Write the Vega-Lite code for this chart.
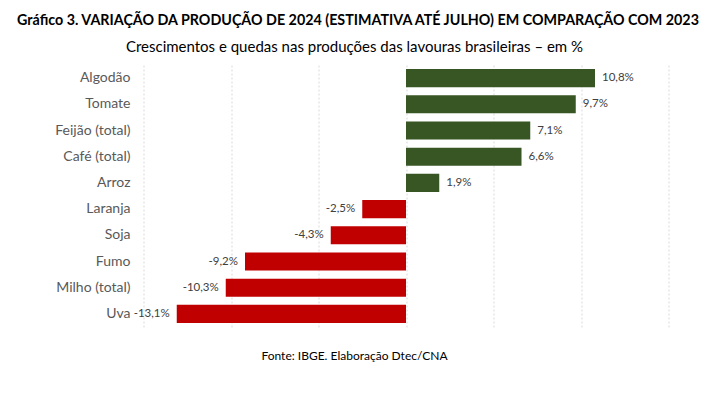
{
  "$schema": "https://vega.github.io/schema/vega-lite/v6.json",
  "width": 525,
  "height": 262,
  "autosize": "none",
  "padding": {"left": 143.5, "top": 65, "right": 40.5, "bottom": 66},
  "background": "white",
  "title": {
    "text": "Gráfico 3. VARIAÇÃO DA PRODUÇÃO DE 2024 (ESTIMATIVA ATÉ JULHO) EM COMPARAÇÃO COM 2023",
    "anchor": "start",
    "frame": "group",
    "dx": -126.5,
    "dy": 3,
    "font": "Lato",
    "fontSize": 14.3,
    "fontWeight": "bold",
    "color": "#000000",
    "offset": 14
  },
  "data": {
    "values": [
      {"cultura": "Algodão", "valor": 10.8, "rotulo": "10,8%"},
      {"cultura": "Tomate", "valor": 9.7, "rotulo": "9,7%"},
      {"cultura": "Feijão (total)", "valor": 7.1, "rotulo": "7,1%"},
      {"cultura": "Café (total)", "valor": 6.6, "rotulo": "6,6%"},
      {"cultura": "Arroz", "valor": 1.9, "rotulo": "1,9%"},
      {"cultura": "Laranja", "valor": -2.5, "rotulo": "-2,5%"},
      {"cultura": "Soja", "valor": -4.3, "rotulo": "-4,3%"},
      {"cultura": "Fumo", "valor": -9.2, "rotulo": "-9,2%"},
      {"cultura": "Milho (total)", "valor": -10.3, "rotulo": "-10,3%"},
      {"cultura": "Uva", "valor": -13.1, "rotulo": "-13,1%"}
    ]
  },
  "encoding": {
    "y": {
      "field": "cultura",
      "type": "nominal",
      "sort": null,
      "scale": {"paddingInner": 0.31, "paddingOuter": 0.155},
      "axis": {
        "title": null,
        "domain": false,
        "ticks": false,
        "labelPadding": 13.5,
        "labelFont": "Lato",
        "labelFontSize": 14,
        "labelColor": "#595959"
      }
    }
  },
  "layer": [
    {
      "mark": {"type": "bar"},
      "encoding": {
        "x": {
          "field": "valor",
          "type": "quantitative",
          "scale": {"domain": [-15, 15], "nice": false},
          "axis": {
            "orient": "top",
            "values": [-15, -10, -5, 0, 5, 10, 15],
            "labels": false,
            "ticks": false,
            "domain": false,
            "grid": true,
            "gridColor": "#d9d9d9",
            "gridDash": [2, 2],
            "gridWidth": 1,
            "title": "Crescimentos e quedas nas produções das lavouras brasileiras – em %",
            "titleFont": "Lato",
            "titleFontSize": 15,
            "titleFontWeight": "normal",
            "titleColor": "#000000",
            "titleAlign": "center",
            "titleBaseline": "alphabetic",
            "titleX": 210.5,
            "titleY": -14
          }
        },
        "color": {
          "condition": {"test": "datum.valor > 0", "value": "#375623"},
          "value": "#C00000"
        }
      }
    },
    {
      "mark": {"type": "rule", "color": "#bfbfbf", "strokeWidth": 1},
      "encoding": {
        "x": {"datum": 0, "type": "quantitative", "axis": null}
      }
    },
    {
      "transform": [{"filter": "datum.valor > 0"}],
      "mark": {"type": "text", "align": "left", "dx": 7, "font": "Lato", "fontSize": 11.5, "color": "#404040"},
      "encoding": {
        "x": {
          "field": "valor",
          "type": "quantitative",
          "axis": {
            "orient": "bottom",
            "labels": false,
            "ticks": false,
            "domain": false,
            "grid": false,
            "title": "Fonte: IBGE. Elaboração Dtec/CNA",
            "titleFont": "Lato",
            "titleFontSize": 12,
            "titleFontWeight": "normal",
            "titleColor": "#000000",
            "titleAlign": "center",
            "titleBaseline": "alphabetic",
            "titleX": 210.5,
            "titleY": 32
          }
        },
        "text": {"field": "rotulo"}
      }
    },
    {
      "transform": [{"filter": "datum.valor < 0"}],
      "mark": {"type": "text", "align": "right", "dx": -7, "font": "Lato", "fontSize": 11.5, "color": "#404040"},
      "encoding": {
        "x": {"field": "valor", "type": "quantitative", "axis": null},
        "text": {"field": "rotulo"}
      }
    }
  ],
  "resolve": {"axis": {"x": "independent"}},
  "config": {
    "view": {"stroke": null}
  }
}
